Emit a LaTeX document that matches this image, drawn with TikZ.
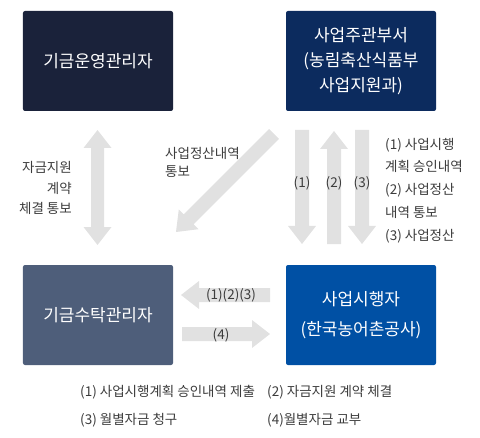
\documentclass[tikz,border=0pt]{standalone}
\usepackage{fontspec}
\setmainfont{Noto Sans CJK KR}
\usetikzlibrary{positioning}
\definecolor{boxA}{HTML}{1A223A}
\definecolor{boxB}{HTML}{0C2B5E}
\definecolor{boxC}{HTML}{4E5E7A}
\definecolor{boxD}{HTML}{0050A4}
\definecolor{arrowgray}{HTML}{E1E1E1}
\definecolor{labelgray}{HTML}{3C3C3C}
\tikzset{
  orgbox/.style={minimum width=150bp, minimum height=100bp, inner sep=0pt, rounded corners=2bp,
    text=white, font=\fontsize{17bp}{25bp}\selectfont, align=center},
  lbl/.style={text=labelgray, font=\fontsize{13.5bp}{15bp}\selectfont, inner sep=0pt},
}
% single block arrow: x y length angle
\newcommand\blockarr[4]{%
  \fill[arrowgray, shift={(#1,#2)}, rotate=#4]
    (0,-7) -- ({#3-18},-7) -- ({#3-18},-14) -- (#3,0) -- ({#3-18},14) -- ({#3-18},7) -- (0,7) -- cycle;}
% double block arrow: x y length angle
\newcommand\dblarr[4]{%
  \fill[arrowgray, shift={(#1,#2)}, rotate=#4]
    (0,0) -- (18,-14) -- (18,-6.5) -- ({#3-18},-6.5) -- ({#3-18},-14) -- (#3,0)
    -- ({#3-18},14) -- ({#3-18},6.5) -- (18,6.5) -- (18,14) -- cycle;}
\begin{document}
\begin{tikzpicture}[x=1bp,y=-1bp]
\useasboundingbox (0,0) rectangle (480,438);
% boxes
\node[orgbox, fill=boxA] (fund) at (98,61) {기금운영관리자};
\node[orgbox, fill=boxB] (dept) at (361,61) {사업주관부서\\(농림축산식품부\\사업지원과)};
\node[orgbox, fill=boxC] (trust) at (98,315) {기금수탁관리자};
\node[orgbox, fill=boxD, font=\fontsize{17bp}{30bp}\selectfont] (exec) at (361,315) {사업시행자\\(한국농어촌공사)};
% block arrows
\dblarr{97.5}{130}{115}{-90}
\blockarr{274}{134}{138.6}{-135}
\blockarr{302}{130}{114}{-90}
\blockarr{334}{244}{113}{90}
\blockarr{362}{130}{114}{-90}
\blockarr{270}{295}{89}{180}
\blockarr{182}{334}{88}{0}
% arrow labels
\node[lbl] (l1) at (302,183) {(1)};
\node[lbl] (l2) at (334,183) {(2)};
\node[lbl] (l3) at (362,183) {(3)};
\node[lbl] (l123) at (231,295) {(1)(2)(3)};
\node[lbl] (l4) at (221,335) {(4)};
% side texts
\node[lbl, anchor=east] (a1) at (72,167) {자금지원};
\node[lbl, anchor=east] (a2) at (72,188) {계약};
\node[lbl, anchor=east] (a3) at (72,208) {체결 통보};
\node[lbl, anchor=west] (b1) at (165,153) {사업정산내역};
\node[lbl, anchor=west] (b2) at (165,172) {통보};
\node[lbl, anchor=west] (c1) at (385,145) {(1) 사업시행};
\node[lbl, anchor=west] (c2) at (385,166) {계획 승인내역};
\node[lbl, anchor=west] (c3) at (385,190) {(2) 사업정산};
\node[lbl, anchor=west] (c4) at (385,212) {내역 통보};
\node[lbl, anchor=west] (c5) at (385,236) {(3) 사업정산};
% legend
\node[lbl, anchor=west] (g1) at (80,392) {(1) 사업시행계획 승인내역 제출};
\node[lbl, anchor=west] (g2) at (267,392) {(2) 자금지원 계약 체결};
\node[lbl, anchor=west] (g3) at (80,420) {(3) 월별자금 청구};
\node[lbl, anchor=west] (g4) at (267,420) {(4)월별자금 교부};
\end{tikzpicture}
\end{document}
